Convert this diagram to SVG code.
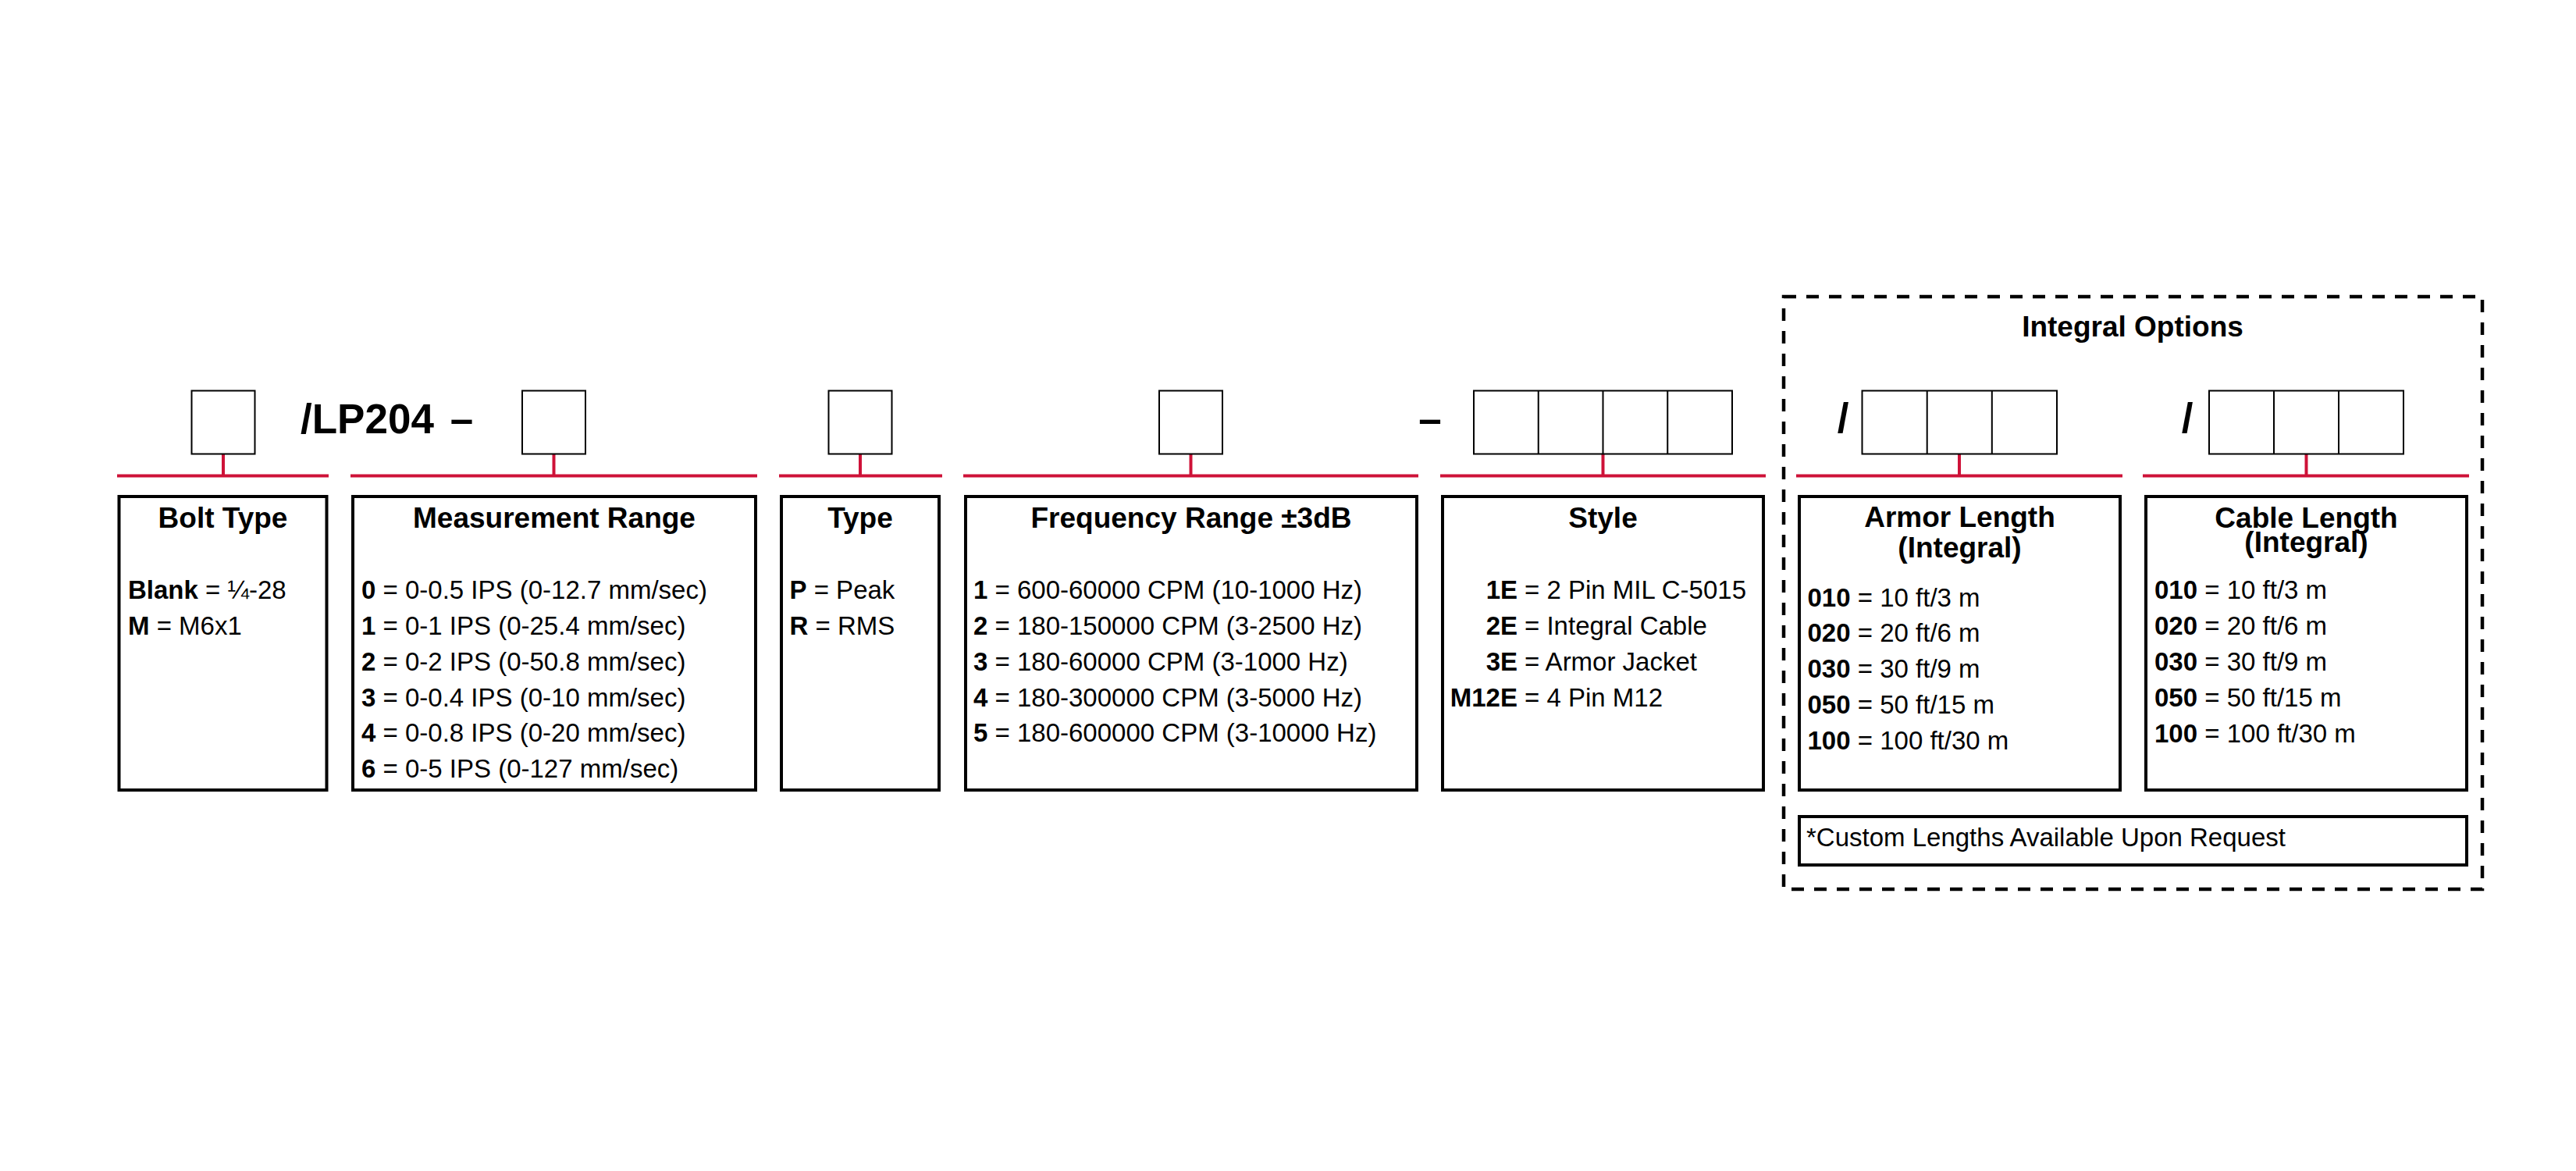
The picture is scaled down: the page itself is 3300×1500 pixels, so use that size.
<svg xmlns="http://www.w3.org/2000/svg" width="3300" height="1500" viewBox="0 0 3300 1500">
<style>
.bg{fill:#ffffff}
.cell{fill:#ffffff;stroke:#000000;stroke-width:2}
.box{fill:#ffffff;stroke:#000000;stroke-width:4}
.red{stroke:#CE1238;stroke-width:4;fill:none}
.dash{fill:none;stroke:#000000;stroke-width:4.5;stroke-dasharray:16 13}
text{font-family:"Liberation Sans",Arial,Helvetica,sans-serif;fill:#000000}
.big{font-size:53px;font-weight:bold}
.title{font-size:37px;font-weight:bold;text-anchor:middle}
.body{font-size:33px}
.b{font-weight:bold}
.key{font-size:33px;font-weight:bold;text-anchor:end}
</style>
<rect class="bg" x="0" y="0" width="3300" height="1500"/>

<g id="connectors">
  <line class="red" x1="150" y1="609.5" x2="421" y2="609.5"/>
  <line class="red" x1="286" y1="581" x2="286" y2="609.5"/>
  <line class="red" x1="449" y1="609.5" x2="970" y2="609.5"/>
  <line class="red" x1="709.5" y1="581" x2="709.5" y2="609.5"/>
  <line class="red" x1="998" y1="609.5" x2="1207" y2="609.5"/>
  <line class="red" x1="1102" y1="581" x2="1102" y2="609.5"/>
  <line class="red" x1="1234" y1="609.5" x2="1817" y2="609.5"/>
  <line class="red" x1="1525.5" y1="581" x2="1525.5" y2="609.5"/>
  <line class="red" x1="1845" y1="609.5" x2="2262" y2="609.5"/>
  <line class="red" x1="2053.5" y1="581" x2="2053.5" y2="609.5"/>
  <line class="red" x1="2301" y1="609.5" x2="2719" y2="609.5"/>
  <line class="red" x1="2510" y1="581" x2="2510" y2="609.5"/>
  <line class="red" x1="2745" y1="609.5" x2="3163" y2="609.5"/>
  <line class="red" x1="2954.5" y1="581" x2="2954.5" y2="609.5"/>
</g>

<g id="code-header">
  <text class="big" x="385" y="555">/LP204</text>
  <text class="big" x="591.5" y="555" text-anchor="middle">–</text>
  <text class="big" x="1832" y="555" text-anchor="middle">–</text>
  <text class="big" x="2361" y="554" text-anchor="middle">/</text>
  <text class="big" x="2802" y="554" text-anchor="middle">/</text>
</g>

<g id="bolt-type">
  <rect class="cell" x="245.5" y="500.5" width="81" height="81"/>
  <rect class="box" x="152.5" y="636" width="266" height="376"/>
  <text class="title" x="285.5" y="676">Bolt Type</text>
  <text class="body" x="164" y="767"><tspan class="b">Blank</tspan> = ¼-28</text>
  <text class="body" x="164" y="813"><tspan class="b">M</tspan> = M6x1</text>
</g>

<g id="measurement-range">
  <rect class="cell" x="669" y="500.5" width="81" height="81"/>
  <rect class="box" x="452" y="636" width="516" height="376"/>
  <text class="title" x="710" y="676">Measurement Range</text>
  <text class="body" x="463" y="767"><tspan class="b">0</tspan> = 0-0.5 IPS (0-12.7 mm/sec)</text>
  <text class="body" x="463" y="813"><tspan class="b">1</tspan> = 0-1 IPS (0-25.4 mm/sec)</text>
  <text class="body" x="463" y="858.5"><tspan class="b">2</tspan> = 0-2 IPS (0-50.8 mm/sec)</text>
  <text class="body" x="463" y="904.5"><tspan class="b">3</tspan> = 0-0.4 IPS (0-10 mm/sec)</text>
  <text class="body" x="463" y="950"><tspan class="b">4</tspan> = 0-0.8 IPS (0-20 mm/sec)</text>
  <text class="body" x="463" y="995.5"><tspan class="b">6</tspan> = 0-5 IPS (0-127 mm/sec)</text>
</g>

<g id="type">
  <rect class="cell" x="1061.5" y="500.5" width="81" height="81"/>
  <rect class="box" x="1001" y="636" width="202" height="376"/>
  <text class="title" x="1102" y="676">Type</text>
  <text class="body" x="1011.5" y="767"><tspan class="b">P</tspan> = Peak</text>
  <text class="body" x="1011.5" y="813"><tspan class="b">R</tspan> = RMS</text>
</g>

<g id="frequency-range">
  <rect class="cell" x="1485" y="500.5" width="81" height="81"/>
  <rect class="box" x="1237" y="636" width="578" height="376"/>
  <text class="title" x="1526" y="676">Frequency Range ±3dB</text>
  <text class="body" x="1247" y="767"><tspan class="b">1</tspan> = 600-60000 CPM (10-1000 Hz)</text>
  <text class="body" x="1247" y="813"><tspan class="b">2</tspan> = 180-150000 CPM (3-2500 Hz)</text>
  <text class="body" x="1247" y="858.5"><tspan class="b">3</tspan> = 180-60000 CPM (3-1000 Hz)</text>
  <text class="body" x="1247" y="904.5"><tspan class="b">4</tspan> = 180-300000 CPM (3-5000 Hz)</text>
  <text class="body" x="1247" y="950"><tspan class="b">5</tspan> = 180-600000 CPM (3-10000 Hz)</text>
</g>

<g id="style">
  <rect class="cell" x="1888" y="500.5" width="331" height="81"/>
  <line class="cell" x1="1970.75" y1="500.5" x2="1970.75" y2="581.5"/>
  <line class="cell" x1="2053.5" y1="500.5" x2="2053.5" y2="581.5"/>
  <line class="cell" x1="2136.25" y1="500.5" x2="2136.25" y2="581.5"/>
  <rect class="box" x="1848" y="636" width="411" height="376"/>
  <text class="title" x="2053.5" y="676">Style</text>
  <text class="key" x="1944" y="767">1E</text>
  <text class="body" x="1953" y="767">= 2 Pin MIL C-5015</text>
  <text class="key" x="1944" y="813">2E</text>
  <text class="body" x="1953" y="813">= Integral Cable</text>
  <text class="key" x="1944" y="859">3E</text>
  <text class="body" x="1953" y="859">= Armor Jacket</text>
  <text class="key" x="1944" y="905">M12E</text>
  <text class="body" x="1953" y="905">= 4 Pin M12</text>
</g>

<g id="integral-options">
  <rect class="dash" x="2285" y="380" width="895" height="759"/>
  <text class="title" x="2732" y="431">Integral Options</text>
</g>

<g id="armor-length">
  <rect class="cell" x="2385.5" y="500.5" width="249.5" height="81"/>
  <line class="cell" x1="2468.7" y1="500.5" x2="2468.7" y2="581.5"/>
  <line class="cell" x1="2551.8" y1="500.5" x2="2551.8" y2="581.5"/>
  <rect class="box" x="2305" y="636" width="411" height="376"/>
  <text class="title" x="2510.5" y="675">Armor Length</text>
  <text class="title" x="2510.5" y="714">(Integral)</text>
  <text class="body" x="2315.5" y="776.5"><tspan class="b">010</tspan> = 10 ft/3 m</text>
  <text class="body" x="2315.5" y="822"><tspan class="b">020</tspan> = 20 ft/6 m</text>
  <text class="body" x="2315.5" y="868"><tspan class="b">030</tspan> = 30 ft/9 m</text>
  <text class="body" x="2315.5" y="913.5"><tspan class="b">050</tspan> = 50 ft/15 m</text>
  <text class="body" x="2315.5" y="959.5"><tspan class="b">100</tspan> = 100 ft/30 m</text>
</g>

<g id="cable-length">
  <rect class="cell" x="2830" y="500.5" width="249" height="81"/>
  <line class="cell" x1="2913" y1="500.5" x2="2913" y2="581.5"/>
  <line class="cell" x1="2996" y1="500.5" x2="2996" y2="581.5"/>
  <rect class="box" x="2749" y="636" width="411" height="376"/>
  <text class="title" x="2954.5" y="676">Cable Length</text>
  <text class="title" x="2954.5" y="707">(Integral)</text>
  <text class="body" x="2760" y="767"><tspan class="b">010</tspan> = 10 ft/3 m</text>
  <text class="body" x="2760" y="813"><tspan class="b">020</tspan> = 20 ft/6 m</text>
  <text class="body" x="2760" y="858.5"><tspan class="b">030</tspan> = 30 ft/9 m</text>
  <text class="body" x="2760" y="904.5"><tspan class="b">050</tspan> = 50 ft/15 m</text>
  <text class="body" x="2760" y="950.5"><tspan class="b">100</tspan> = 100 ft/30 m</text>
</g>

<g id="custom-note">
  <rect class="box" x="2305" y="1046" width="855" height="62"/>
  <text class="body" x="2314" y="1084">*Custom Lengths Available Upon Request</text>
</g>
</svg>
